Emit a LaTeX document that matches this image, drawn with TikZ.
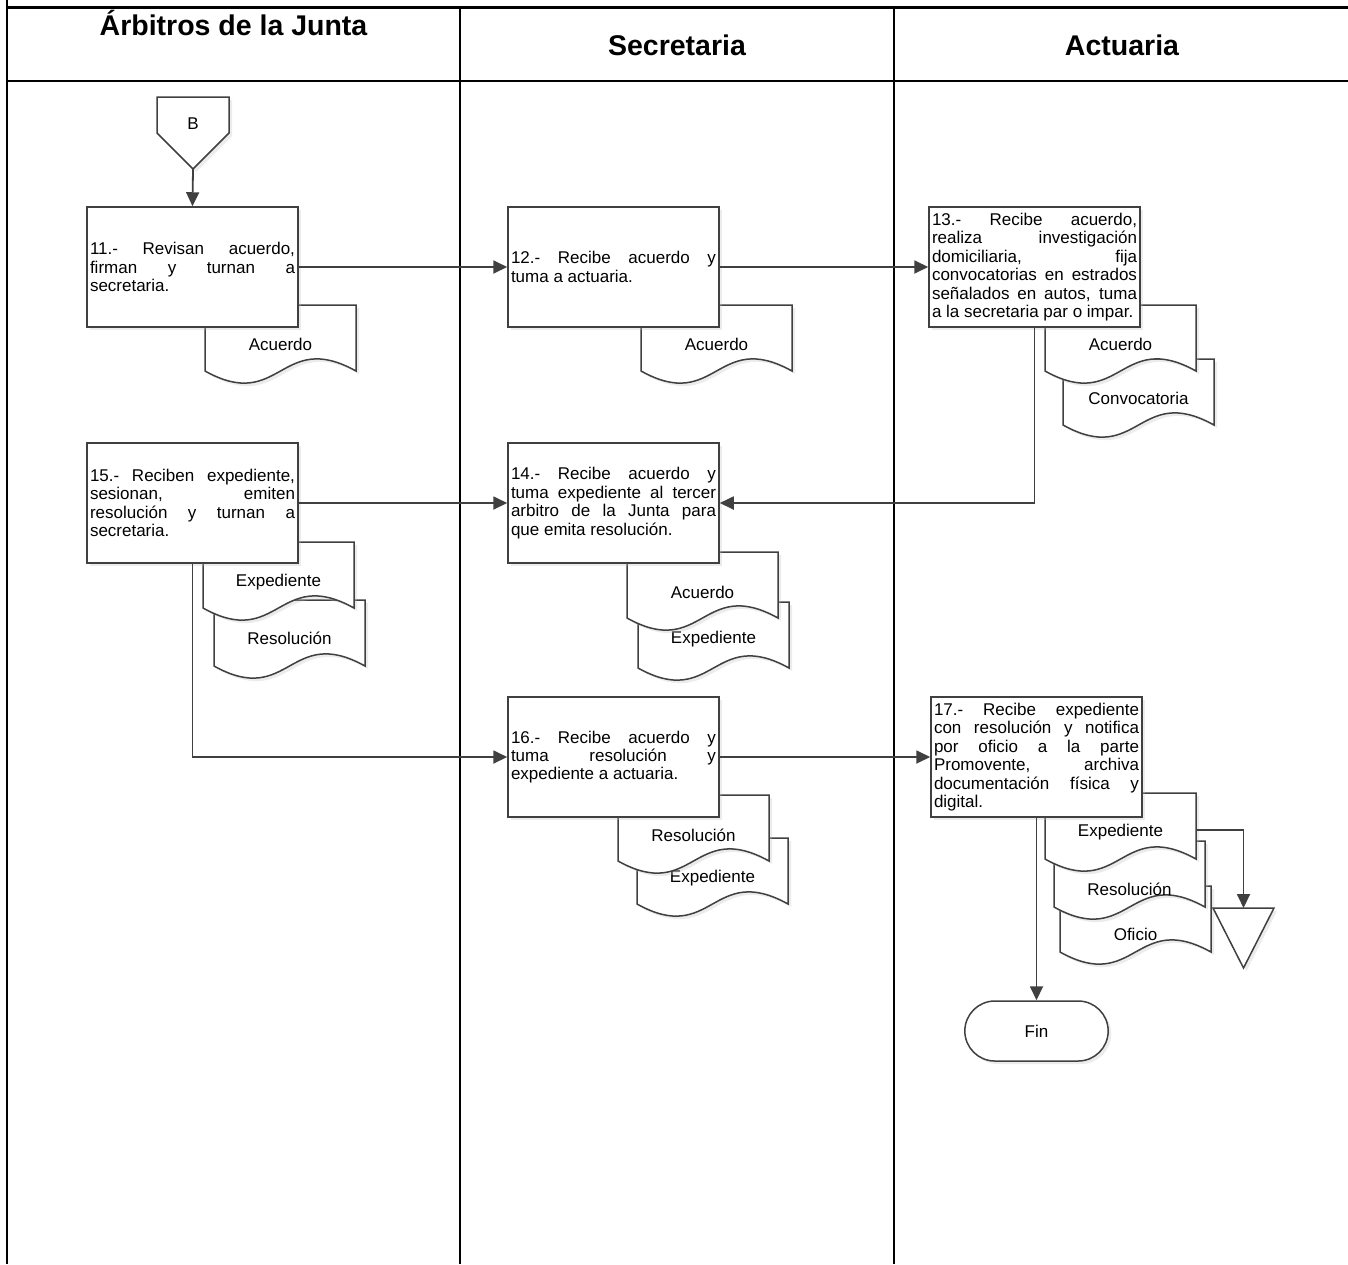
\documentclass[tikz,border=0pt]{standalone}
\usepackage{fontspec}
\setmainfont{Liberation Sans}
\usetikzlibrary{arrows.meta,shapes.misc,shadows}
\definecolor{linec}{HTML}{404040}
\newcommand\bodyfont{\fontsize{17}{18.4}\selectfont}
\newcommand\headfont{\fontsize{28.5}{32}\selectfont\bfseries}
\hyphenpenalty=10000
\exhyphenpenalty=10000
\tolerance=10000
\hbadness=10000
\tikzset{
 shadowed/.style={drop shadow={shadow xshift=3pt,shadow yshift=-3pt,fill=black!25,opacity=0.3}},
 procbox/.style={draw=linec, line width=1.5pt, fill=white, shadowed, minimum width=211pt, minimum height=120pt, text width=205pt, inner xsep=3pt, inner ysep=2pt, align=justify, font=\bodyfont},
 docline/.style={draw=linec, line width=1.5pt, fill=white, shadowed},
 doctext/.style={font=\bodyfont, inner sep=0pt},
 conn/.style={draw=linec, line width=1.8pt, -{Triangle[length=14pt,width=13pt]}},
 lanev/.style={draw=black, line width=1.6pt},
 laneh/.style={draw=black, line width=2.2pt},
 headtext/.style={font=\headfont, anchor=base, inner sep=0pt},
}
% #1 name, #2 x-left, #3 y-top, #4 text offset, #5 text
\newcommand\docsh[5]{%
 \filldraw[docline] (#2,#3) -- ({#2+151},#3) -- ({#2+151},{#3+66}) .. controls ({#2+75.5},{#3+24}) and ({#2+75.5},{#3+108}) .. (#2,{#3+66}) -- cycle;
 \node[doctext] (#1) at ({#2+75.5},{#3+#4}) {#5};
 \coordinate (#1-e) at ({#2+151},{#3+37});
}
\begin{document}
\begin{tikzpicture}[x=1pt,y=-1pt]
\useasboundingbox (0,0) rectangle (1348,1264);
% swimlanes
\draw[lanev] (7,0) -- (7,1264);
\draw[lanev] (460,7.5) -- (460,1264);
\draw[lanev] (894,7.5) -- (894,1264);
\draw[laneh] (6.2,7.5) -- (1348,7.5);
\draw[laneh] (6.2,81) -- (1348,81);
\node[headtext] (h1) at (233.5,35) {Árbitros de la Junta};
\node[headtext] (h2) at (677,55) {Secretaria};
\node[headtext] (h3) at (1122,55) {Actuaria};
% documents (back to front)
\docsh{d11a}{205}{305}{39}{Acuerdo}
\docsh{d12a}{641}{305}{39}{Acuerdo}
\docsh{d13b}{1063}{359}{39}{Convocatoria}
\docsh{d13a}{1045}{305}{39}{Acuerdo}
\docsh{d15b}{214}{600}{38}{Resolución}
\docsh{d15a}{203}{542}{40}{Expediente}
\docsh{d14b}{638}{602}{37}{Expediente}
\docsh{d14a}{627}{552}{40}{Acuerdo}
\docsh{d16b}{637}{838}{40}{Expediente}
\docsh{d16a}{618}{795}{40}{Resolución}
\docsh{d17c}{1060}{886}{48}{Oficio}
\docsh{d17b}{1054}{841}{48}{Resolución}
\docsh{d17a}{1045}{793}{39}{Expediente}
% process boxes
\node[procbox] (b11) at (192.5,267) {11.- Revisan acuerdo,\linebreak firman y turnan a\linebreak secretaria.};
\node[procbox] (b12) at (613.5,267) {12.- Recibe acuerdo y\linebreak tuma a actuaria.};
\node[procbox] (b13) at (1034.5,267) {13.- Recibe acuerdo,\linebreak realiza investigación\linebreak domiciliaria, fija\linebreak convocatorias en estrados\linebreak señalados en autos, tuma\linebreak a la secretaria par o impar.};
\node[procbox] (b15) at (192.5,503) {15.- Reciben expediente,\linebreak sesionan, emiten\linebreak resolución y turnan a\linebreak secretaria.};
\node[procbox] (b14) at (613.5,503) {14.- Recibe acuerdo y\linebreak tuma expediente al tercer\linebreak arbitro de la Junta para\linebreak que emita resolución.};
\node[procbox] (b16) at (613.5,757) {16.- Recibe acuerdo y\linebreak tuma resolución y\linebreak expediente a actuaria.};
\node[procbox] (b17) at (1036.5,757) {17.- Recibe expediente\linebreak con resolución y notifica\linebreak por oficio a la parte\linebreak Promovente, archiva\linebreak documentación física y\linebreak digital.};
% off-page connector B
\filldraw[docline] (157,97) -- (229,97) -- (229,133) -- (193,169) -- (157,133) -- cycle;
\node[doctext] (btxt) at (193,124) {B};
\coordinate (bout) at (193,169);
% archive triangle
\filldraw[docline] (1213,908) -- (1274,908) -- (1243.5,968) -- cycle;
\coordinate (tri) at (1243.5,908);
% terminator
\node[draw=linec, line width=1.5pt, fill=white, shadowed, rounded rectangle, minimum width=150pt, minimum height=60pt, font=\bodyfont] (fin) at (1036.5,1031) {Fin};
% connectors
\draw[conn] (bout) -- (b11.north);
\draw[conn] (b11.east) -- (b12.west);
\draw[conn] (b12.east) -- (b13.west);
\draw[conn] (b13.south) |- (b14.east);
\draw[conn] (b15.east) -- (b14.west);
\draw[conn] (b15.south) |- (b16.west);
\draw[conn] (b16.east) -- (b17.west);
\draw[conn] (b17.south) -- (fin.north);
\draw[conn] (d17a-e) -| (tri);
\end{tikzpicture}
\end{document}
